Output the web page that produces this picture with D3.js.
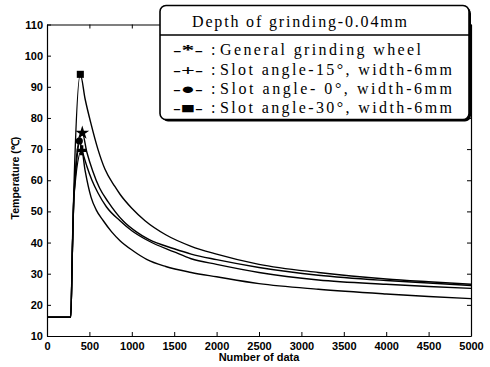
<!DOCTYPE html>
<html>
<head>
<meta charset="utf-8">
<script src="https://cdn.jsdelivr.net/npm/d3@7/dist/d3.min.js"></script>
<style>
  html, body { margin: 0; padding: 0; background: #fff; }
  svg { display: block; }
</style>
</head>
<body>
<svg id="chart" width="490" height="367"></svg>
<script>
// Temperature records for four grinding wheels, depth of grinding 0.04 mm
const xTicks = [0, 500, 1000, 1500, 2000, 2500, 3000, 3500, 4000, 4500, 5000];
const yTicks = [10, 20, 30, 40, 50, 60, 70, 80, 90, 100, 110];

const legendTitle = "Depth of grinding-0.04mm";
const seriesLabels = [
  "General grinding wheel",
  "Slot angle-15°,  width-6mm",
  "Slot angle- 0°,  width-6mm",
  "Slot angle-30°,  width-6mm"
];
const seriesGlyphs = ["*", "+", "●", "■"];

// [sample number, temperature °C]
const generalWheel = [
  [0, 16], [280, 16], [300, 38], [318, 55], [416, 75.2], [470, 69], [539, 63],
  [620, 57.5], [723, 53], [896, 47], [1050, 43.5], [1200, 41], [1500, 38],
  [1700, 36.3], [2000, 34.5], [2500, 32], [3200, 29.5], [4000, 27.8], [4500, 27], [5000, 26.2]
];
const slot15 = [
  [0, 16], [280, 16], [300, 38], [318, 55], [409, 69.6], [450, 63], [520, 54.5],
  [580, 50.5], [664, 47], [760, 43.5], [861, 40.6], [1018, 37.3], [1175, 34.6],
  [1400, 32.3], [1700, 30.4], [2000, 29], [2500, 26.8], [3200, 25], [4000, 23.5], [4500, 22.7], [5000, 22]
];
const slot0 = [
  [0, 16], [280, 16], [300, 38], [318, 55], [381, 72.6], [420, 69], [470, 64.5],
  [530, 60], [600, 56], [700, 51.5], [861, 47], [1000, 43.8], [1200, 40.5], [1500, 37],
  [1700, 34.8], [2000, 33], [2500, 30.4], [3200, 28], [4000, 26.6], [4500, 25.9], [5000, 25.3]
];
const slot30 = [
  [0, 16], [280, 16], [300, 40], [318, 58], [393, 94], [450, 86], [520, 78],
  [600, 70], [684, 63.5], [800, 58], [861, 55.5], [1000, 51], [1156, 47], [1400, 42.5],
  [1700, 38.8], [2000, 36.3], [2500, 33], [3200, 30.4], [4000, 28.3], [4500, 27.4], [5000, 26.6]
];
const seriesData = [generalWheel, slot15, slot0, slot30];
const seriesSymbols = [d3.symbolStar, d3.symbolCross, d3.symbolCircle, d3.symbolSquare];
const symbolSizes = [60, 55, 40, 50];

const svg = d3.select("#chart");
const plotLeft = 47, plotRight = 471, plotTop = 24.5, plotBottom = 336;

const x = d3.scaleLinear().domain([0, 5000]).range([plotLeft, plotRight]);
const y = d3.scaleLinear().domain([10, 110]).range([plotBottom, plotTop]);

const axisFont = "'Liberation Sans', Arial, sans-serif";
const tickLen = 4;

// Axes with inward ticks on all four sides of the box
const axB = svg.append("g").attr("transform", `translate(0,${plotBottom})`)
  .call(d3.axisBottom(x).tickValues(xTicks).tickSizeInner(-tickLen).tickSizeOuter(0).tickPadding(6).tickFormat(d3.format("d")));
const axT = svg.append("g").attr("transform", `translate(0,${plotTop})`)
  .call(d3.axisTop(x).tickValues(xTicks).tickSizeInner(-tickLen).tickSizeOuter(0).tickFormat(""));
const axL = svg.append("g").attr("transform", `translate(${plotLeft},0)`)
  .call(d3.axisLeft(y).tickValues(yTicks).tickSizeInner(-tickLen).tickSizeOuter(0).tickPadding(4).tickFormat(d3.format("d")));
const axR = svg.append("g").attr("transform", `translate(${plotRight},0)`)
  .call(d3.axisRight(y).tickValues(yTicks).tickSizeInner(-tickLen).tickSizeOuter(0).tickFormat(""));

[axB, axT, axL, axR].forEach(g => {
  g.select(".domain").attr("stroke", "#000").attr("stroke-width", 1.2);
  g.selectAll(".tick line").attr("stroke", "#000").attr("stroke-width", 1);
  g.selectAll("text").attr("font-family", axisFont).attr("font-size", 11)
    .attr("fill", "#000").attr("font-weight", "bold");
});

// Curves
const line = d3.line().x(d => x(d[0])).y(d => y(d[1])).curve(d3.curveMonotoneX);
const plot = svg.append("g");
seriesData.forEach((data, i) => {
  plot.append("path").datum(data)
    .attr("d", line)
    .attr("fill", "none")
    .attr("stroke", "#000")
    .attr("stroke-width", 1.4)
    .attr("stroke-linejoin", "round");
  // marker at the peak sample
  const peak = data.reduce((a, b) => (b[1] > a[1] ? b : a));
  plot.append("path")
    .attr("d", d3.symbol().type(seriesSymbols[i]).size(symbolSizes[i])())
    .attr("transform", `translate(${x(peak[0])},${y(peak[1])})`)
    .attr("fill", "#000");
});

// Axis titles
svg.append("text")
  .attr("x", 259).attr("y", 361)
  .attr("text-anchor", "middle")
  .attr("font-family", axisFont).attr("font-size", 11).attr("font-weight", "bold")
  .text("Number of data");
svg.append("text")
  .attr("transform", "translate(15,178) rotate(-90)")
  .attr("text-anchor", "middle")
  .attr("dominant-baseline", "central")
  .attr("font-family", axisFont).attr("font-size", 10.5).attr("font-weight", "bold")
  .text("Temperature (℃)");

// Legend
const legFont = "'Liberation Serif', 'DejaVu Serif', serif";
const leg = svg.append("g");
leg.append("rect")
  .attr("x", 162).attr("y", 7.5).attr("width", 309).attr("height", 114)
  .attr("rx", 6).attr("ry", 6)
  .attr("fill", "#000");
leg.append("rect")
  .attr("x", 160).attr("y", 5.5).attr("width", 309).attr("height", 114)
  .attr("rx", 6).attr("ry", 6)
  .attr("fill", "#fff").attr("stroke", "#000").attr("stroke-width", 1.6);
leg.append("line")
  .attr("x1", 160).attr("x2", 469).attr("y1", 35).attr("y2", 35)
  .attr("stroke", "#000").attr("stroke-width", 1.4);
leg.append("text")
  .attr("x", 192).attr("y", 27)
  .attr("font-family", legFont).attr("font-size", 16)
  .attr("textLength", 215).attr("lengthAdjust", "spacing")
  .text(legendTitle);

const rowY = [55, 74.5, 94, 113];
const rowLen = [201, 232, 232, 232];
seriesLabels.forEach((label, i) => {
  leg.append("text")
    .attr("x", 173).attr("y", rowY[i])
    .attr("font-family", legFont).attr("font-size", 15).attr("font-weight", "bold")
    .text("-" + seriesGlyphs[i] + "-")
    .attr("textLength", 30).attr("lengthAdjust", "spacingAndGlyphs");
  leg.append("text")
    .attr("x", 211).attr("y", rowY[i])
    .attr("font-family", legFont).attr("font-size", 16)
    .text(":");
  leg.append("text")
    .attr("x", 220).attr("y", rowY[i])
    .attr("font-family", legFont).attr("font-size", 16)
    .attr("textLength", rowLen[i]).attr("lengthAdjust", "spacing")
    .text(label);
});
</script>
</body>
</html>
